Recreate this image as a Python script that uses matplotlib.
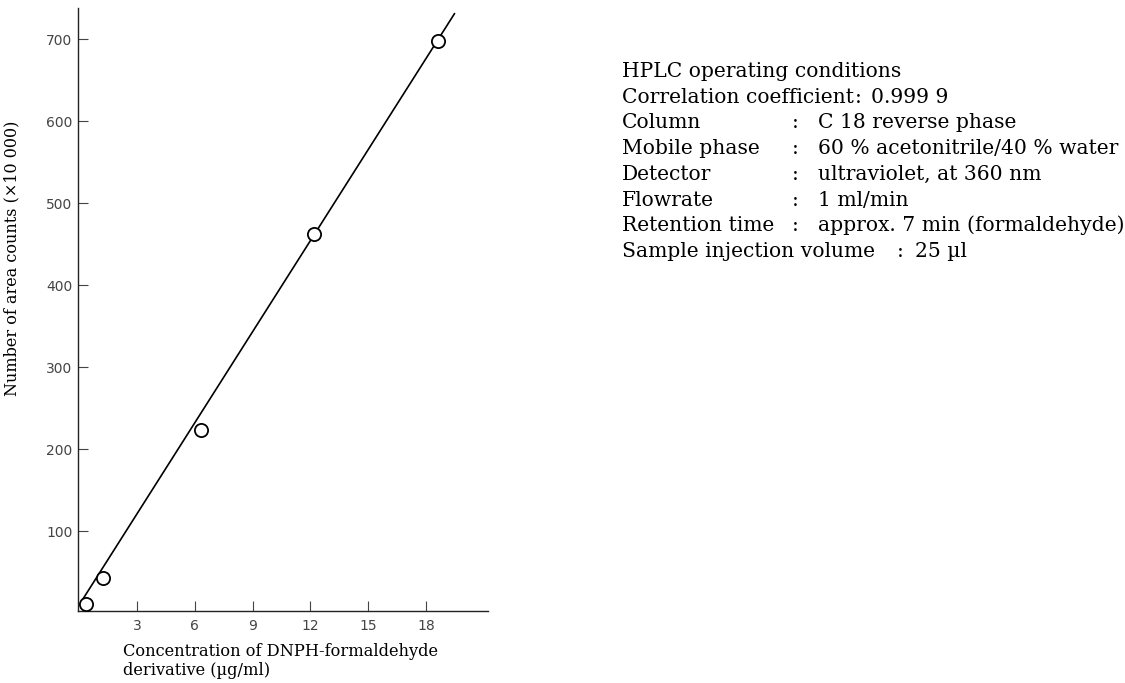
import matplotlib
matplotlib.use('Agg')
import matplotlib.pyplot as plt
import numpy as np

# calibration points
conc = [0.35, 1.27, 6.35, 12.16, 18.6]        # ug/ml
area = [12, 43, 224, 462, 698]                # x10 000 counts

# drawn calibration line
fit_slope = 37.05
fit_intercept = 10.0
fit_x = [0.2, 19.46]

x_ticks = [3, 6, 9, 12, 15, 18]
y_ticks = [100, 200, 300, 400, 500, 600, 700]

cond_labels = ['Column', 'Mobile phase', 'Detector', 'Flowrate', 'Retention time']
cond_values = ['C 18 reverse phase', '60 % acetonitrile/40 % water',
               'ultraviolet, at 360 nm', '1 ml/min',
               'approx. 7 min (formaldehyde)']

W, H = 1125, 683
fig = plt.figure(figsize=(W / 100, H / 100), dpi=100)
ax = fig.add_axes([78 / W, 1 - 611 / H, (488 - 78) / W, (611 - 8) / H])

# line behind the open circles
fx = np.array(fit_x)
ax.plot(fx, fit_slope * fx + fit_intercept, color='black', lw=1.2, zorder=2)
ax.plot(conc, area, linestyle='none', marker='o', ms=9.5, mfc='white',
        mec='black', mew=1.3, zorder=3)

ax.set_xlim(-0.05, 21.2)
ax.set_ylim(3, 738)
ax.set_xticks(x_ticks)
ax.set_yticks(y_ticks)
ax.tick_params(direction='in', length=7, width=0.8, colors='#444444',
               labelsize=10)
ax.tick_params(axis='x', pad=6)
ax.tick_params(axis='y', pad=4)
for s in ['top', 'right']:
    ax.spines[s].set_visible(False)
for s in ['left', 'bottom']:
    ax.spines[s].set_linewidth(1.0)
    ax.spines[s].set_color('#222222')

serif = 'DejaVu Serif'
ax.set_ylabel('Number of area counts (\u00d710 000)', family=serif,
              fontsize=11.5)
ax.yaxis.set_label_coords((20 - 78) / 410, (611 - 258) / 603)

fig.text(123 / W, 1 - 661 / H,
         'Concentration of DNPH-formaldehyde\nderivative (\u00b5g/ml)',
         family=serif, fontsize=11.7, ha='left', va='center',
         linespacing=1.2)

# operating conditions block
fs = 14.6
x0, xc, xv = 622, 795, 818
base = 77
step = 25.7


def fy(i):
    return 1 - (base + step * i) / H


def put(x, i, s, **kw):
    fig.text(x / W, fy(i), s, family=serif, fontsize=fs, va='baseline', **kw)


put(x0, 0, 'HPLC operating conditions')
put(x0, 1, 'Correlation coefficient')
put(858, 1, ':', ha='center')
put(871, 1, '0.999 9')
for i, (lab, val) in enumerate(zip(cond_labels, cond_values)):
    put(x0, i + 2, lab)
    put(xc, i + 2, ':', ha='center')
    put(xv, i + 2, val)
put(x0, 7, 'Sample injection volume')
put(900, 7, ':', ha='center')
put(915, 7, '25 \u00b5l')

fig.savefig('out.png', dpi=100)
